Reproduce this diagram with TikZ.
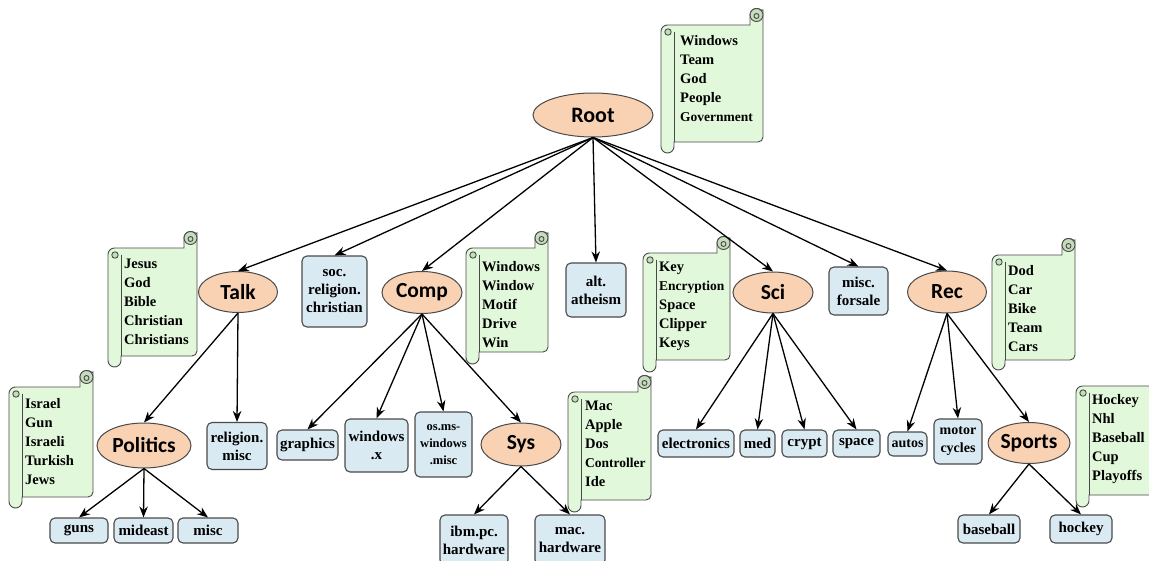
\documentclass[tikz,border=0pt]{standalone}
\usepackage{fontspec}
\setmainfont{Liberation Serif}
\newfontfamily\calfont{Carlito}
\usetikzlibrary{shapes.geometric,arrows.meta}
\definecolor{peach}{HTML}{F9D1B3}
\definecolor{leafblue}{HTML}{DAEAF3}
\definecolor{scrollgreen}{HTML}{E2F8DA}
\definecolor{curlgreen}{HTML}{C6DDBD}
\definecolor{edge}{HTML}{4A4A4A}

% vertical scroll: #1 left, #2 right, #3 top of sheet, #4 bottom of sheet, #5 bottom of roll
\newcommand\vscroll[5]{%
  \draw[scrollline, fill=scrollgreen]
    ({#1+13},#4) [rounded corners=5pt] -- (#2,#4) -- (#2,{#3-10}) [sharp corners]
    arc[start angle=0, end angle=-180, radius=6.5] -- ({#2-13},#3)
    -- ({#1+6.5},#3) arc[start angle=-90, end angle=-180, radius=6.5]
    -- (#1,{#5-6.5}) arc[start angle=180, end angle=0, radius=6.5] -- cycle;
  \draw[scrollline] ({#1+13},{#3+6.5}) -- ({#1+13},#4);
  \draw[scrollline, fill=curlgreen] ({#1+7},{#3+7}) circle[radius=3.2];
  \draw[scrollline, fill=curlgreen] ({#2-6.5},{#3-10}) circle[radius=6.5];
  \draw[scrollline] ({#2-6.5},{#3-9}) circle[radius=2.5];
}

\begin{document}
\begin{tikzpicture}[x=1pt, y=-1pt,
  topic/.style={ellipse, draw=edge, fill=peach, line width=1pt, inner sep=0pt,
    font=\calfont\bfseries\fontsize{21.5}{21.5}\selectfont},
  leaf/.style={draw=edge, fill=leafblue, rounded corners=5pt, line width=1.1pt,
    inner sep=0pt, align=center, font=\bfseries\fontsize{15}{18}\selectfont},
  kw/.style={anchor=west, inner sep=0pt, align=left,
    font=\bfseries\fontsize{14.5}{19}\selectfont},
  narrowkw/.style={font=\bfseries\fontsize{13.5}{19}\selectfont},
  scrollline/.style={draw=edge, line width=0.9pt},
  arr/.style={line width=1.3pt, -{Stealth[length=11pt, width=8.5pt]}}
]
\useasboundingbox (0,0) rectangle (1149,560);
\clip (0,0) rectangle (1149,560);

% keyword scrolls
\vscroll{661}{763}{25}{142}{153}
\vscroll{108}{197}{248}{356}{367}
\vscroll{9}{93}{387}{497}{508}
\vscroll{466}{548}{248}{352}{364}
\vscroll{568}{651}{392}{500}{512}
\vscroll{643}{730}{253}{360}{372}
\vscroll{992}{1075}{255}{360}{370}
\vscroll{1076}{1170}{386}{495}{507}

\node[kw] (kwroot) at (680,79) {Windows\\Team\\God\\People\\{\fontsize{13.5}{19}\selectfont Government}};
\node[kw] (kwtalk) at (124,302) {Jesus\\God\\Bible\\Christian\\Christians};
\node[kw] (kwpol) at (25,442) {Israel\\Gun\\Israeli\\Turkish\\Jews};
\node[kw] (kwcomp) at (482,305) {Windows\\Window\\Motif\\Drive\\Win};
\node[kw] (kwsys) at (585,444) {Mac\\Apple\\Dos\\{\fontsize{13.5}{19}\selectfont Controller}\\Ide};
\node[kw] (kwsci) at (659,306) {Key\\{\fontsize{13.5}{19}\selectfont Encryption}\\Space\\Clipper\\Keys};
\node[kw] (kwrec) at (1008,309) {Dod\\Car\\Bike\\Team\\Cars};
\node[kw] (kwsports) at (1092,439) {Hockey\\Nhl\\Baseball\\Cup\\Playoffs};

% topics
\node[topic, minimum width=120, minimum height=44, font=\calfont\bfseries\fontsize{22}{22}\selectfont] (root) at (593,115) {Root};
\node[topic, minimum width=79, minimum height=41] (talk) at (238,292) {Talk};
\node[topic, minimum width=80, minimum height=42] (comp) at (422,292.5) {Comp};
\node[topic, minimum width=80, minimum height=41] (sci) at (773,292.5) {Sci};
\node[topic, minimum width=79, minimum height=42] (rec) at (947,292) {Rec};
\node[topic, minimum width=94, minimum height=45] (pol) at (144,445.5) {Politics};
\node[topic, minimum width=80, minimum height=43] (sys) at (521,444.5) {Sys};
\node[topic, minimum width=82, minimum height=41] (sports) at (1029,443) {Sports};

% leaves
\node[leaf, minimum width=65, minimum height=71] (socrel) at (334.5,291.5) {soc.\\religion.\\christian};
\node[leaf, minimum width=60, minimum height=54] (alt) at (596,290) {alt.\\atheism};
\node[leaf, minimum width=59, minimum height=48] (forsale) at (858.5,291) {misc.\\forsale};
\node[leaf, minimum width=60, minimum height=47] (relmisc) at (237,446) {religion.\\misc};
\node[leaf, minimum width=61, minimum height=30] (graphics) at (307.5,445) {graphics};
\node[leaf, minimum width=63, minimum height=53] (winx) at (376.5,445.5) {windows\\.x};
\node[leaf, minimum width=57, minimum height=65, font=\bfseries\fontsize{12.5}{17}\selectfont] (osms) at (443.5,444.5) {os.ms-\\windows\\.misc};
\node[leaf, minimum width=76, minimum height=27] (elec) at (696,443.5) {electronics};
\node[leaf, minimum width=35, minimum height=27] (med) at (757.5,443.5) {med};
\node[leaf, minimum width=45, minimum height=27] (crypt) at (804.5,443.5) {crypt};
\node[leaf, minimum width=47, minimum height=27] (space) at (856.5,443.5) {space};
\node[leaf, minimum width=39, minimum height=24, font=\bfseries\fontsize{14}{18}\selectfont] (autos) at (907.5,444) {autos};
\node[leaf, minimum width=48, minimum height=45, font=\bfseries\fontsize{14}{18}\selectfont] (motor) at (958,441.5) {motor\\cycles};
\node[leaf, minimum width=58, minimum height=25] (guns) at (79,530.5) {guns};
\node[leaf, minimum width=59, minimum height=25] (mideast) at (143.5,530.5) {mideast};
\node[leaf, minimum width=60, minimum height=25] (misc) at (208,530.5) {misc};
\node[leaf, minimum width=68, minimum height=50] (ibm) at (474,540) {ibm.pc.\\hardware};
\node[leaf, minimum width=70, minimum height=50] (mac) at (570,540) {mac.\\hardware};
\node[leaf, minimum width=62, minimum height=28] (baseball) at (989,529) {baseball};
\node[leaf, minimum width=62, minimum height=28] (hockey) at (1081,529) {hockey};

% connectors
\foreach \c in {talk,socrel,comp,alt,sci,forsale,rec}
  \draw[arr] (root.south) -- (\c.north);
\foreach \c in {pol,relmisc}
  \draw[arr] (talk.south) -- (\c.north);
\foreach \c in {graphics,winx,osms,sys}
  \draw[arr] (comp.south) -- (\c.north);
\foreach \c in {elec,med,crypt,space}
  \draw[arr] (sci.south) -- (\c.north);
\foreach \c in {autos,motor,sports}
  \draw[arr] (rec.south) -- (\c.north);
\foreach \c in {guns,mideast,misc}
  \draw[arr] (pol.south) -- (\c.north);
\foreach \c in {ibm,mac}
  \draw[arr] (sys.south) -- (\c.north);
\foreach \c in {baseball,hockey}
  \draw[arr] (sports.south) -- (\c.north);
\end{tikzpicture}
\end{document}
